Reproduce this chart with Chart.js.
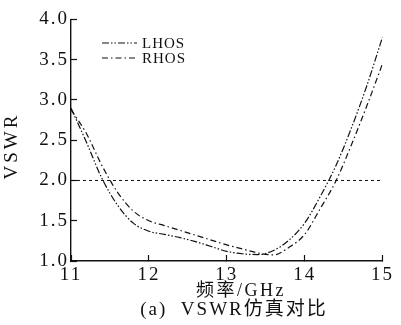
<!DOCTYPE html>
<html>
<head>
<meta charset="utf-8">
<script src="https://cdn.jsdelivr.net/npm/chart.js@4"></script>
<style>
  html, body { margin: 0; padding: 0; background: #fff; }
  #wrap { width: 401px; height: 325px; position: relative; }
</style>
</head>
<body>
<div id="wrap"><canvas id="c"></canvas></div>
<script>
'use strict';
// values
const freqs = [11.0, 11.2, 11.4, 11.6, 11.8, 12.0, 12.2, 12.4, 12.6, 12.8, 13.0,
               13.2, 13.4, 13.6, 13.8, 14.0, 14.2, 14.4, 14.6, 14.8, 15.0];
const lhos  = [2.90, 2.47, 2.02, 1.69, 1.47, 1.37, 1.33, 1.29, 1.24, 1.18, 1.12,
               1.09, 1.08, 1.13, 1.26, 1.47, 1.80, 2.18, 2.65, 3.18, 3.78];
const rhos  = [2.88, 2.58, 2.18, 1.85, 1.62, 1.50, 1.44, 1.38, 1.32, 1.26, 1.20,
               1.15, 1.10, 1.075, 1.17, 1.33, 1.65, 1.99, 2.44, 2.93, 3.45];
const refLevel = 2.0;
const xTicks = [11, 12, 13, 14, 15];
const yTicks = [1.0, 1.5, 2.0, 2.5, 3.0, 3.5, 4.0];
const seriesNames = ['LHOS', 'RHOS'];
const xTitle = '频率/GHz';
const yTitle = 'VSWR';
const caption = '(a)  VSWR仿真对比';

const FONT = '"Liberation Serif", "Times New Roman", "Noto Sans CJK SC", serif';
const INK = '#111';

const pts = ys => freqs.map((f, i) => ({ x: f, y: ys[i] }));

// the source figure is set wide, so spread the glyphs a little
const spacingPlugin = {
  id: 'spacing',
  beforeDraw(chart) { chart.ctx.letterSpacing = '2px'; },
};

// legend, axis titles and caption placed by hand
const textPlugin = {
  id: 'texts',
  afterDraw(chart) {
    const ctx = chart.ctx;
    ctx.save();
    ctx.fillStyle = INK;
    ctx.strokeStyle = INK;

    // legend inside the plot
    const rows = [43, 58];
    chart.data.datasets.slice(0, 2).forEach((ds, i) => {
      ctx.lineWidth = ds.borderWidth;
      ctx.setLineDash(ds.borderDash);
      ctx.beginPath();
      ctx.moveTo(102, rows[i]);
      ctx.lineTo(137, rows[i]);
      ctx.stroke();
      ctx.setLineDash([]);
      ctx.font = '15px ' + FONT;
      ctx.letterSpacing = '1px';
      ctx.textAlign = 'left';
      ctx.textBaseline = 'middle';
      ctx.fillText(ds.label, 142, rows[i] + 1);
    });

    // y axis title
    ctx.save();
    ctx.translate(12, 146);
    ctx.rotate(-Math.PI / 2);
    ctx.font = '19px ' + FONT;
    ctx.letterSpacing = '3px';
    ctx.textAlign = 'center';
    ctx.textBaseline = 'middle';
    ctx.fillText(yTitle, 0, 0);
    ctx.restore();

    // x axis title and caption
    ctx.textAlign = 'center';
    ctx.textBaseline = 'middle';
    ctx.font = '18px ' + FONT;
    ctx.letterSpacing = '2.5px';
    ctx.fillText(xTitle, 241, 291);
    ctx.font = '19px ' + FONT;
    ctx.letterSpacing = '2px';
    ctx.fillText(caption, 234, 310);
    ctx.restore();
  }
};

new Chart(document.getElementById('c'), {
  type: 'line',
  data: {
    datasets: [
      {
        label: seriesNames[0],
        data: pts(lhos),
        borderColor: INK,
        borderWidth: 1.2,
        borderDash: [7, 2, 1.5, 2, 1.5, 2],
        pointRadius: 0,
        cubicInterpolationMode: 'monotone',
      },
      {
        label: seriesNames[1],
        data: pts(rhos),
        borderColor: INK,
        borderWidth: 1.2,
        borderDash: [6, 3, 1.5, 3],
        pointRadius: 0,
        cubicInterpolationMode: 'monotone',
      },
      {
        label: 'ref',
        data: [{ x: xTicks[0], y: refLevel }, { x: xTicks[xTicks.length - 1], y: refLevel }],
        borderColor: INK,
        borderWidth: 1,
        borderDash: [3, 3],
        pointRadius: 0,
      },
    ],
  },
  options: {
    responsive: true, maintainAspectRatio: false,
    animation: false,
    layout: { padding: { top: 17, right: 18, bottom: 0, left: 0 } },
    plugins: {
      legend: { display: false },
      tooltip: { enabled: false },
    },
    scales: {
      x: {
        type: 'linear',
        min: 11, max: 15,
        afterBuildTicks: s => { s.ticks = xTicks.map(v => ({ value: v })); },
        afterFit: s => { s.height = 64; },
        ticks: { color: INK, font: { family: FONT, size: 19 }, padding: 9, maxRotation: 0 },
        grid: { drawOnChartArea: false, tickLength: -6, color: INK, tickWidth: 1.2 },
        border: { color: INK, width: 1.4 },
      },
      y: {
        min: 1, max: 4,
        afterBuildTicks: s => { s.ticks = yTicks.map(v => ({ value: v })); },
        afterFit: s => { s.width = 71; },
        ticks: { color: INK, font: { family: FONT, size: 19 }, padding: 8,
                 callback: v => v.toFixed(1) },
        grid: { drawOnChartArea: false, tickLength: -6, color: INK, tickWidth: 1.2 },
        border: { color: INK, width: 1.4 },
      },
    },
  },
  plugins: [spacingPlugin, textPlugin],
});
</script>
</body>
</html>
